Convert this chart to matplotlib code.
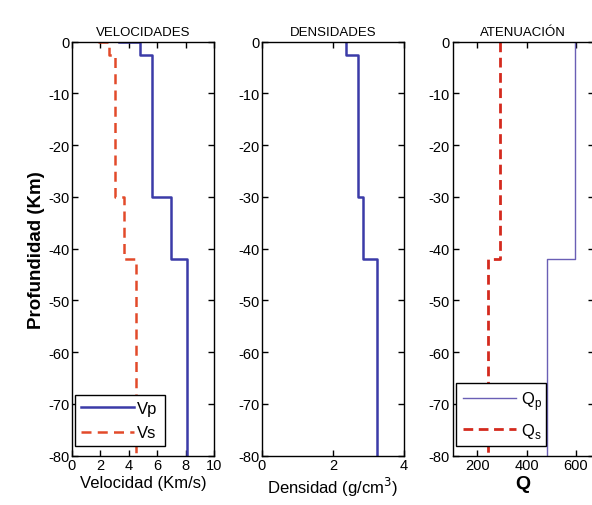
import matplotlib.pyplot as plt
import numpy as np

plt.rcParams['font.family'] = ['Liberation Sans', 'DejaVu Sans']
plt.rcParams['axes.unicode_minus'] = False

# layer boundaries (km) and values per layer
z_vel = [0, -2.5, -30, -42, -80]
vp = [4.8, 5.6, 7.0, 8.1]
vs = [2.6, 3.0, 3.65, 4.5]
vp_surf = 3.3
vs_surf = 1.8

z_den = [0, -2.5, -30, -42, -80]
rho = [2.37, 2.70, 2.84, 3.24]

z_q = [0, -42, -80]
qp = [595, 485]
qs = [292, 244]


def stairs(z, v, surf=None):
    # build stair path: vertical segments per layer joined by horizontal steps
    x = np.repeat(v, 2)
    y = np.column_stack([z[:-1], z[1:]]).ravel()
    if surf is not None:
        x = np.concatenate([[surf], x])
        y = np.concatenate([[z[0]], y])
    return x, y


fig = plt.figure(figsize=(5.92, 5.06), dpi=100)
ax1 = fig.add_axes([72/592, 49.3/506, 142/592, 414/506])
ax2 = fig.add_axes([262/592, 49.3/506, 142/592, 414/506])
ax3 = fig.add_axes([452.7/592, 49.3/506, 141/592, 414/506])

blue = '#3b3ba8'
red = '#e24a2a'

x, y = stairs(z_vel, vp, vp_surf)
ax1.plot(x, y, color=blue, lw=1.8, label='Vp')
x, y = stairs(z_vel, vs, vs_surf)
ax1.plot(x, y, color=red, lw=1.8, ls=(0, (4, 2.5)), label='Vs')
ax1.set_xlim(0, 10)
ax1.set_xticks([0, 2, 4, 6, 8, 10])
ax1.set_title('VELOCIDADES', fontsize=9.5, pad=5)
ax1.set_xlabel('Velocidad (Km/s)', fontsize=12, labelpad=2)
ax1.set_ylabel('Profundidad (Km)', fontsize=13.5, fontweight='bold', labelpad=2)
ax1.legend(loc='lower left', bbox_to_anchor=(0.02, 0.023, 0.635, 0.13), mode='expand',
           fancybox=False, edgecolor='black', framealpha=1, fontsize=12,
           handlelength=3.2, handletextpad=0.2, labelspacing=0.55, borderpad=0.35,
           borderaxespad=0).get_frame().set_linewidth(1.0)

x, y = stairs(z_den, rho)
ax2.plot(x, y, color=blue, lw=1.8)
ax2.set_xlim(0, 4)
ax2.set_xticks([0, 2, 4])
ax2.set_title('DENSIDADES', fontsize=9.5, pad=5)
ax2.set_xlabel('Densidad (g/cm$^3$)', fontsize=12, labelpad=2)

x, y = stairs(z_q, qp)
ax3.plot(x, y, color='#6a5fb5', lw=1.0, label='Q$_\\mathregular{p}$')
x, y = stairs(z_q, qs)
ax3.plot(x, y, color='#d42a1e', lw=2.0, ls=(0, (3.5, 2)), label='Q$_\\mathregular{s}$')
ax3.set_xlim(100, 673)
ax3.set_xticks([200, 400, 600])
ax3.set_title('ATENUACIÓN', fontsize=9.5, pad=5)
ax3.set_xlabel('Q', fontsize=14, fontweight='bold', labelpad=2)
ax3.legend(loc='lower left', bbox_to_anchor=(0.023, 0.023, 0.64, 0.16), mode='expand',
           fancybox=False, edgecolor='black', framealpha=1, fontsize=12,
           handlelength=3.2, handletextpad=0.3, labelspacing=0.5, borderpad=0.4,
           borderaxespad=0).get_frame().set_linewidth(1.0)

for ax in (ax1, ax2, ax3):
    ax.set_ylim(-80, 0)
    ax.set_yticks(np.arange(-80, 1, 10))
    ax.tick_params(direction='in', length=4, width=1, top=True, right=True,
                   labelsize=10.5, pad=2)
    for s in ax.spines.values():
        s.set_linewidth(1.0)

fig.savefig('out.png', dpi=100)
